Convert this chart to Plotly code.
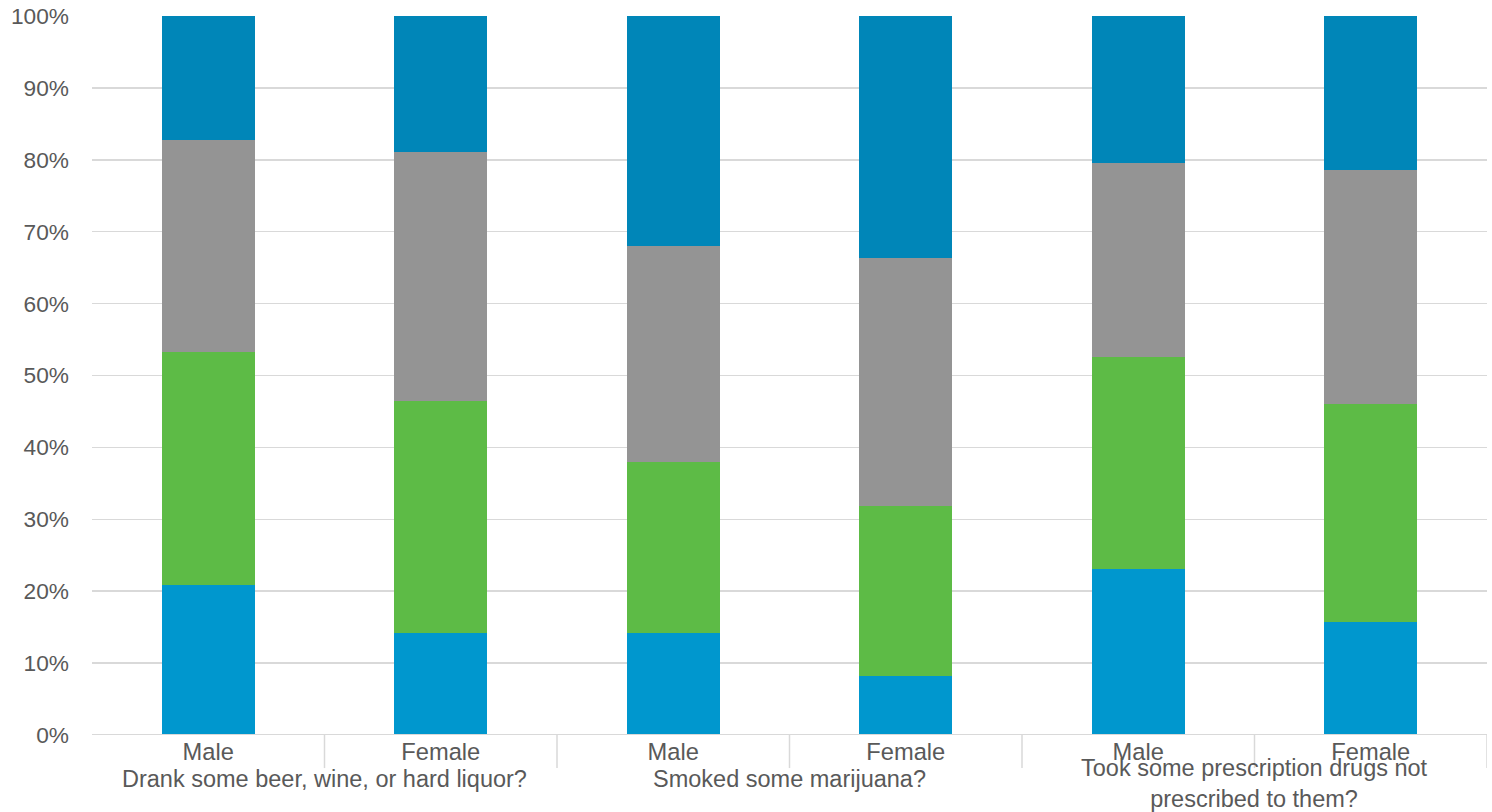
import plotly.graph_objects as go

groups = ["Drank some beer, wine, or hard liquor?",
          "Smoked some marijuana?",
          "Took some prescription drugs not<br>prescribed to them?"]
sexes = ["Male", "Female"]
bar_groups = [0, 0, 1, 1, 2, 2]
bar_sex = ["Male", "Female", "Male", "Female", "Male", "Female"]

series_names = ["Series 1", "Series 2", "Series 3", "Series 4"]
series_1 = [20.8, 14.2, 14.2, 8.2, 23.1, 15.7]
series_2 = [32.5, 32.2, 23.8, 23.7, 29.5, 30.3]
series_3 = [29.4, 34.7, 30.0, 34.5, 26.9, 32.6]
series_4 = [17.3, 18.9, 32.0, 33.6, 20.5, 21.4]
series = [series_1, series_2, series_3, series_4]
colors = ["#0097CE", "#5DBB46", "#949494", "#0086B8"]

y_ticks = [0, 10, 20, 30, 40, 50, 60, 70, 80, 90, 100]

xpos = list(range(len(bar_sex)))

fig = go.Figure()
for name, vals, c in zip(series_names, series, colors):
    fig.add_trace(go.Bar(x=xpos, y=vals, name=name, marker=dict(color=c, line=dict(width=0)),
                         width=0.4, showlegend=False, hoverinfo="skip"))

font_family = "Liberation Sans, Arial, sans-serif"
text_color = "#595959"

fig.update_layout(
    barmode="stack",
    width=1492, height=812,
    margin=dict(l=92, r=5, t=16, b=77, autoexpand=False),
    plot_bgcolor="white", paper_bgcolor="white",
    hovermode=False,
    font=dict(family=font_family, color=text_color, size=23),
    xaxis=dict(range=[-0.5, 5.5], tickvals=xpos, ticktext=bar_sex, showgrid=False,
               zeroline=False, showline=False, ticks="", tickfont=dict(size=23.7),
               automargin=False, ticklabelstandoff=0, fixedrange=True),
    yaxis=dict(range=[0, 100], tickvals=y_ticks, ticktext=[f"{v}%" for v in y_ticks],
               showgrid=True, gridcolor="#D9D9D9", gridwidth=1.5, zeroline=False,
               showline=False, ticks="", ticklabelstandoff=22, tickfont=dict(size=22.7),
               automargin=False, fixedrange=True),
)

fig.add_shape(type="line", xref="paper", yref="y", x0=0, x1=1, y0=0, y1=0,
              line=dict(color="#D9D9D9", width=2))
for d in [0.5, 1.5, 2.5, 3.5, 4.5, 5.5]:
    fig.add_shape(type="line", xref="x", yref="paper", x0=d, x1=d, y0=0, y1=-0.046,
                  line=dict(color="#D9D9D9", width=1.5))

group_centers = [0.5, 2.5, 4.5]
for g, cx in zip(groups, group_centers):
    two_line = "<br>" in g
    fig.add_annotation(x=cx, xref="x", yref="paper", y=-0.0668 if two_line else -0.0612,
                       text=g, showarrow=False, yanchor="middle",
                       font=dict(size=23.5, color=text_color, family=font_family),
                       align="center")

fig.write_html("out.html", config={"displayModeBar": False, "staticPlot": True},
               post_script="document.body.style.margin='0';document.body.style.padding='0';")
